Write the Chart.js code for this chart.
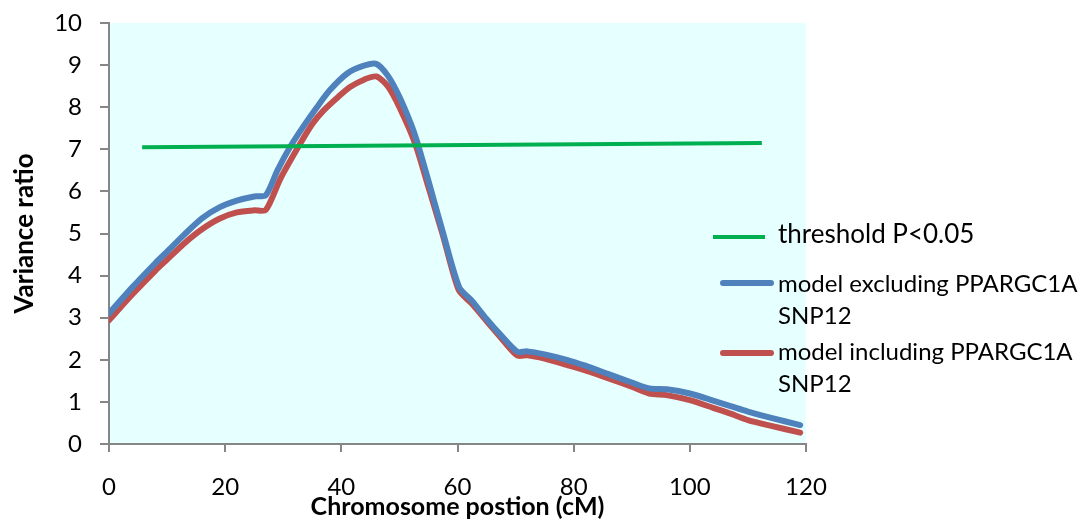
<!DOCTYPE html>
<html>
<head>
<meta charset="utf-8">
<script src="https://cdn.jsdelivr.net/npm/chart.js@4.4.1/dist/chart.umd.min.js"></script>
<style>
  html, body { margin: 0; padding: 0; background: #fff; }
  #wrap { position: relative; width: 1090px; height: 522px; }
  canvas { position: absolute; left: 0; top: 0; }
  .lg { position: absolute; font-family: Lato, "Open Sans", sans-serif; color: #000; white-space: nowrap; }
  .sw { position: absolute; border-radius: 3px; }
</style>
</head>
<body>
<div id="wrap">
  <canvas id="c" width="1090" height="522"></canvas>
  <div class="sw" style="left:713px; top:235px; width:52px; height:4px; background:#00B050; border-radius:0;"></div>
  <div class="lg" style="left:778px; top:218px; font-size:26px; line-height:30px;">threshold P&lt;0.05</div>
  <div class="sw" style="left:720px; top:280px; width:54px; height:6px; background:#4F81BD;"></div>
  <div class="lg" style="left:778px; top:267px; font-size:24px; line-height:32px;">model excluding PPARGC1A<br>SNP12</div>
  <div class="sw" style="left:720px; top:350px; width:54px; height:6px; background:#C0504D;"></div>
  <div class="lg" style="left:778px; top:335px; font-size:24px; line-height:32px;">model including PPARGC1A<br>SNP12</div>
</div>
<script>
// Chromosome position (cM) and variance ratio values
const excludingPos = [0, 4, 8, 10, 13, 16, 19, 22, 25, 27, 29, 31.2, 33.5, 35.8, 38, 41, 43.5, 46, 48, 50, 52, 53, 55, 57.5, 60.3, 62.5, 65, 67.5, 70.3, 72, 75, 78.8, 82, 86, 90, 93, 96, 100, 104, 107, 110, 114, 119];
const excludingVal = [3.10, 3.72, 4.30, 4.57, 4.98, 5.36, 5.62, 5.78, 5.88, 5.91, 6.50, 7.06, 7.55, 8.00, 8.40, 8.80, 8.97, 9.03, 8.75, 8.25, 7.60, 7.20, 6.25, 5.02, 3.72, 3.40, 2.97, 2.58, 2.19, 2.20, 2.13, 2.00, 1.86, 1.66, 1.46, 1.32, 1.30, 1.20, 1.03, 0.90, 0.77, 0.62, 0.45];
const includingPos = [0, 4, 8, 10, 13, 16, 19, 22, 25, 27, 29.5, 32.6, 35, 37, 39.5, 41.5, 44, 46, 48, 50, 52.7, 55, 57.5, 60.2, 62.5, 65, 67.5, 70.3, 72, 75, 78.8, 82, 86, 90, 93, 96, 100, 104, 107, 110, 114, 119];
const includingVal = [2.94, 3.55, 4.12, 4.38, 4.77, 5.10, 5.35, 5.50, 5.55, 5.56, 6.30, 7.06, 7.60, 7.93, 8.25, 8.48, 8.66, 8.73, 8.50, 8.00, 7.14, 6.10, 4.95, 3.66, 3.33, 2.92, 2.52, 2.10, 2.11, 2.03, 1.88, 1.75, 1.56, 1.36, 1.20, 1.16, 1.04, 0.86, 0.72, 0.57, 0.43, 0.27];
const thresholdPos = [5.7, 112.4];
const thresholdVal = [7.05, 7.15];
const xTicks = [0, 20, 40, 60, 80, 100, 120];
const yTicks = [0, 1, 2, 3, 4, 5, 6, 7, 8, 9, 10];

const toPts = (xs, ys) => xs.map((x, i) => ({ x: x, y: ys[i] }));

const bgPlugin = {
  id: 'plotBg',
  beforeDraw(chart) {
    const a = chart.chartArea, ctx = chart.ctx;
    ctx.save();
    ctx.fillStyle = '#E6FFFF';
    ctx.fillRect(a.left, a.top, a.right - a.left, a.bottom - a.top);
    ctx.restore();
  }
};

const FONT = 'Lato, "Open Sans", sans-serif';

new Chart(document.getElementById('c'), {
  type: 'scatter',
  data: {
    datasets: [
      { label: 'threshold P<0.05', data: toPts(thresholdPos, thresholdVal), showLine: true,
        borderColor: '#00B050', borderWidth: 4, pointRadius: 0, tension: 0 },
      { label: 'model excluding PPARGC1A SNP12', data: toPts(excludingPos, excludingVal), showLine: true,
        borderColor: '#4F81BD', borderWidth: 6, pointRadius: 0, tension: 0.25,
        borderCapStyle: 'round', borderJoinStyle: 'round' },
      { label: 'model including PPARGC1A SNP12', data: toPts(includingPos, includingVal), showLine: true,
        borderColor: '#C0504D', borderWidth: 6, pointRadius: 0, tension: 0.25,
        borderCapStyle: 'round', borderJoinStyle: 'round' }
    ]
  },
  options: {
    responsive: false,
    animation: false,
    layout: { padding: { top: 23, right: 284, bottom: 0, left: 0 } },
    plugins: { legend: { display: false }, tooltip: { enabled: false } },
    scales: {
      x: {
        type: 'linear', min: 0, max: 120,
        afterBuildTicks(s) { s.ticks = xTicks.map(v => ({ value: v })); },
        afterFit(s) { s.height = 78; s.paddingLeft = 0; s.paddingRight = 0; },
        ticks: { color: '#000', font: { family: FONT, size: 24 }, padding: 21, maxRotation: 0 },
        grid: { display: true, drawOnChartArea: false, drawTicks: true, tickLength: 8, color: '#868686', lineWidth: 2 },
        border: { display: true, color: '#868686', width: 2 },
        title: { display: true, text: 'Chromosome postion (cM)', color: '#000',
                 font: { family: FONT, size: 25, weight: 'bold' }, padding: { top: 0, bottom: 0 } }
      },
      y: {
        type: 'linear', min: 0, max: 10,
        afterBuildTicks(s) { s.ticks = yTicks.map(v => ({ value: v })); },
        afterFit(s) { s.width = 109; s.paddingTop = 0; s.paddingBottom = 0; },
        ticks: { color: '#000', font: { family: FONT, size: 24 }, padding: 18 },
        grid: { display: true, drawOnChartArea: false, drawTicks: true, tickLength: 9, color: '#868686', lineWidth: 2 },
        border: { display: true, color: '#868686', width: 2 },
        title: { display: true, text: 'Variance ratio', color: '#000',
                 font: { family: FONT, size: 26, weight: 'bold' }, padding: { top: 9, bottom: 0 } }
      }
    }
  },
  plugins: [bgPlugin]
});
</script>
</body>
</html>
